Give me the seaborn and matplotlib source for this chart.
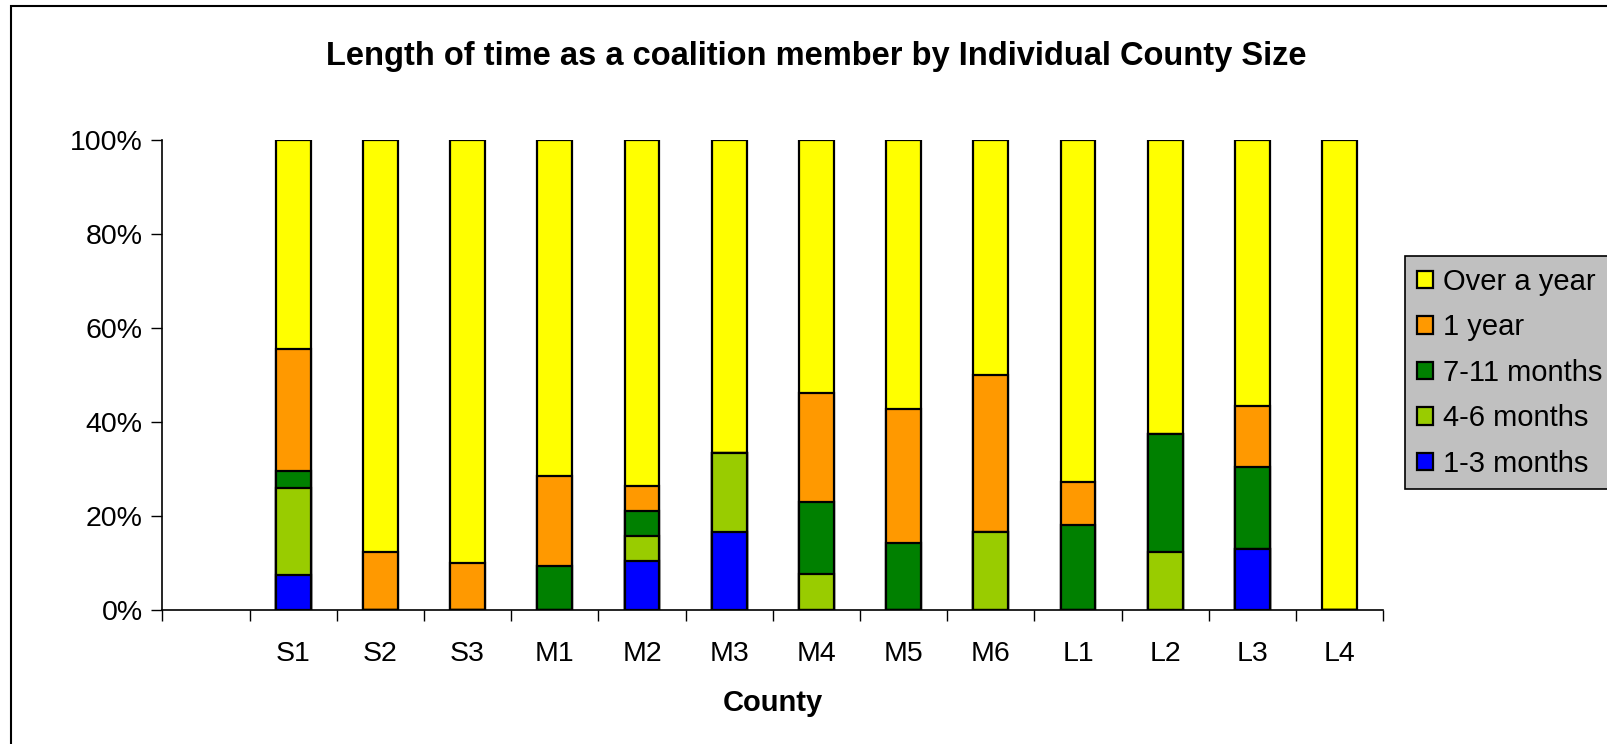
import pandas as pd
import matplotlib
matplotlib.use("Agg")
import matplotlib.pyplot as plt
from matplotlib.patches import Patch, Rectangle
from matplotlib.ticker import FixedLocator, PercentFormatter
import seaborn as sns

sns.set_style("white")
plt.rcParams["font.family"] = ["Liberation Sans", "DejaVu Sans"]
plt.rcParams["text.color"] = "black"
plt.rcParams["xtick.color"] = "black"
plt.rcParams["ytick.color"] = "black"

# ---------- data (percent of members) ----------
counties = ["S1", "S2", "S3", "M1", "M2", "M3", "M4", "M5", "M6", "L1", "L2", "L3", "L4"]
months_1_3 = [7.4, 0, 0, 0, 10.5, 16.7, 0, 0, 0, 0, 0, 13.0, 0]
months_4_6 = [18.5, 0, 0, 0, 5.3, 16.7, 7.7, 0, 16.7, 0, 12.5, 0, 0]
months_7_11 = [3.7, 0, 0, 9.5, 5.3, 0, 15.4, 14.3, 0, 18.2, 25.0, 17.4, 0]
one_year = [25.9, 12.5, 10.0, 19.0, 5.3, 0, 23.1, 28.6, 33.3, 9.1, 0, 13.0, 0]
over_a_year = [44.4, 87.5, 90.0, 71.4, 73.7, 66.7, 53.8, 57.1, 50.0, 72.7, 62.5, 56.5, 100.0]

series = ["1-3 months", "4-6 months", "7-11 months", "1 year", "Over a year"]
colors = {
    "1-3 months": "#0000FF",
    "4-6 months": "#99CC00",
    "7-11 months": "#008000",
    "1 year": "#FF9900",
    "Over a year": "#FFFF00",
}

df = pd.DataFrame({
    "county": counties,
    "1-3 months": months_1_3,
    "4-6 months": months_4_6,
    "7-11 months": months_7_11,
    "1 year": one_year,
    "Over a year": over_a_year,
})
cum = df[series].cumsum(axis=1)
cum["county"] = df["county"]

# ---------- figure ----------
W, H = 1608, 744
fig = plt.figure(figsize=(W / 100, H / 100), dpi=100)
ax = fig.add_axes([162.3 / W, 1 - 610.3 / H, 1221 / W, 470.3 / H])

# stacked bars: draw tallest cumulative first, then smaller ones on top
for name in reversed(series):
    sns.barplot(data=cum, x="county", y=name, order=counties, color=colors[name],
                saturation=1, width=0.40, edgecolor="black", linewidth=1.6, ax=ax)

ax.set_xlim(-1.5, len(counties) - 0.5)
ax.set_ylim(0, 100)

# y axis
ax.yaxis.set_major_locator(FixedLocator([0, 20, 40, 60, 80, 100]))
ax.yaxis.set_major_formatter(PercentFormatter(decimals=0))
ax.tick_params(axis="y", direction="out", length=8, width=1, pad=6,
               labelsize=20.5, left=True)

# x axis: labels at centres, tick marks on category boundaries
ax.set_xticks(range(len(counties)))
ax.set_xticklabels(counties)
ax.set_xticks([i - 0.5 for i in range(-1, len(counties) + 1)], minor=True)
ax.tick_params(axis="x", which="major", length=0, pad=22, labelsize=20.5)
ax.tick_params(axis="x", which="minor", direction="out", length=8, width=1, bottom=True)

ax.set_xlabel("")
ax.set_ylabel("")
for side in ["top", "right"]:
    ax.spines[side].set_visible(False)
for side in ["left", "bottom"]:
    ax.spines[side].set_color("black")
    ax.spines[side].set_linewidth(1.2)

fig.text(816 / W, 1 - 57 / H, "Length of time as a coalition member by Individual County Size",
         ha="center", va="center", fontsize=23.5, fontweight="bold")
fig.text(773 / W, 1 - 703 / H, "County", ha="center", va="center",
         fontsize=21, fontweight="bold")

# legend (top entry first)
handles = [Patch(facecolor=colors[s], edgecolor="black", linewidth=1.6, label=s)
           for s in reversed(series)]
leg = fig.legend(handles=handles, loc="upper left",
                 bbox_to_anchor=(1405 / W, 1 - 256 / H), bbox_transform=fig.transFigure,
                 borderaxespad=0, fontsize=21, frameon=True, fancybox=False, framealpha=1,
                 facecolor="#C0C0C0", edgecolor="black",
                 handlelength=0.55, handleheight=0.55, handletextpad=0.35,
                 labelspacing=0.6, borderpad=0.4)
leg.get_frame().set_linewidth(1.2)

# outer chart border
fig.add_artist(Rectangle((11 / W, -0.1), 1.2, 1 - 6 / H + 0.1, fill=False,
                         edgecolor="black", linewidth=1.5, transform=fig.transFigure))

fig.savefig("out.png", dpi=100)
